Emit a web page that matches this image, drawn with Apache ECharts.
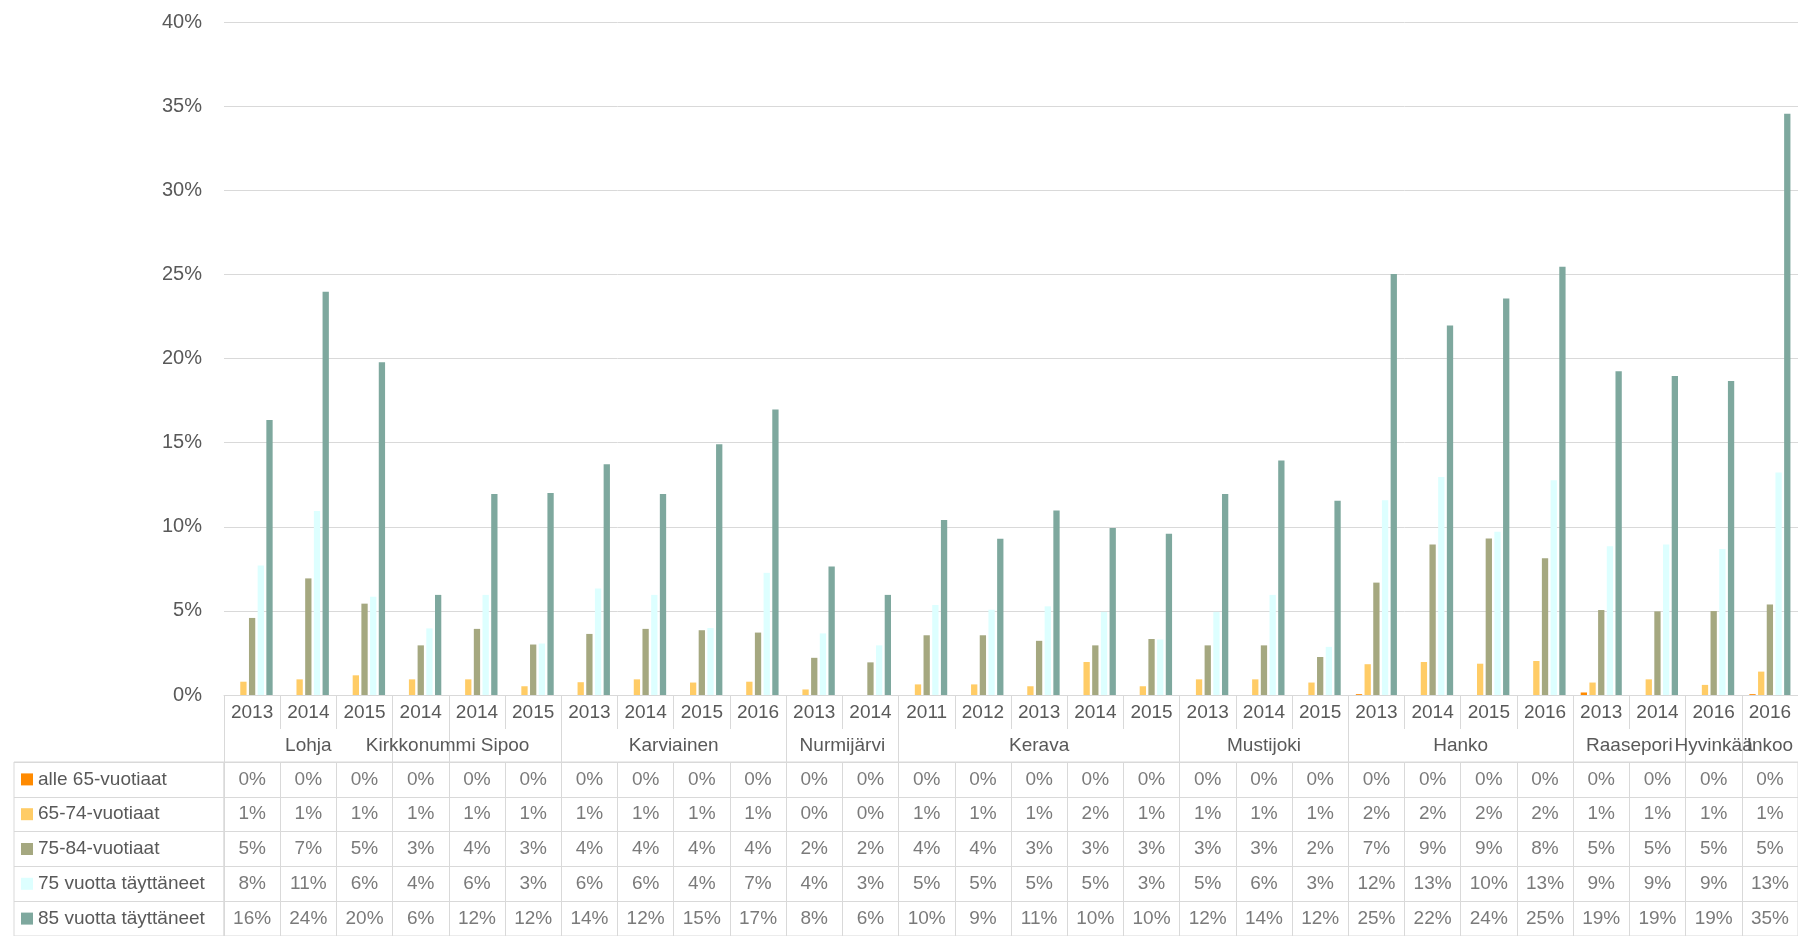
<!DOCTYPE html>
<html>
<head>
<meta charset="utf-8">
<script src="https://cdn.jsdelivr.net/npm/echarts@6/dist/echarts.min.js"></script>
<style>
  html, body { margin: 0; padding: 0; background: #fff; }
  #chart { width: 1798px; height: 936px; }
</style>
</head>
<body>
<div id="chart"></div>
<script>
// vuodet (kategoriat) ja kunnat
const years = ['2013','2014','2015','2014','2014','2015','2013','2014','2015','2016','2013','2014',
  '2011','2012','2013','2014','2015','2013','2014','2015','2013','2014','2015','2016','2013','2014','2016','2016'];
const municipalities = ['Lohja','Kirkkonummi','Sipoo','Karviainen','Nurmijärvi','Kerava','Mustijoki','Hanko','Raasepori','Hyvinkää','Inkoo'];
const groupSizes = [3, 1, 2, 4, 2, 5, 3, 4, 2, 1, 1];

const seriesNames = ['alle 65-vuotiaat', '65-74-vuotiaat', '75-84-vuotiaat', '75 vuotta täyttäneet', '85 vuotta täyttäneet'];
const colors = ['#FF8A00', '#FFCC66', '#A5A880', '#DDFFFF', '#7EA89E'];

// arvot prosentteina
const under65 = [0,0,0,0,0,0,0,0,0,0,0,0,0,0,0,0,0,0,0,0,0.05,0,0,0,0.15,0,0,0.05];
const age6574 = [0.79,0.93,1.17,0.93,0.93,0.52,0.76,0.93,0.74,0.79,0.33,0,0.63,0.63,0.52,1.96,0.52,0.93,0.93,0.74,1.83,1.96,1.86,2.02,0.74,0.93,0.6,1.39];
const age7584 = [4.58,6.93,5.43,2.95,3.93,3.0,3.63,3.93,3.85,3.71,2.21,1.94,3.55,3.55,3.22,2.95,3.33,2.95,2.95,2.26,6.68,8.95,9.3,8.13,5.05,4.97,4.99,5.38];
const age75plus = [7.69,10.94,5.84,3.96,5.95,3.06,6.33,5.95,3.98,7.26,3.66,2.95,5.35,5.07,5.27,4.94,3.3,4.94,5.95,2.86,11.57,12.96,9.71,12.77,8.84,8.95,8.68,13.23];
const age85plus = [16.34,23.96,19.78,5.95,11.95,12.0,13.72,11.95,14.9,16.97,7.64,5.95,10.4,9.28,10.97,9.93,9.58,11.95,13.94,11.54,25.02,21.96,23.57,25.46,19.24,18.96,18.66,34.54];

const allSeries = [under65, age6574, age7584, age75plus, age85plus];

const font = "'Liberation Sans', Arial, sans-serif";
const fontSize = 19;
const textColor = '#595959';
const lineColor = '#d9d9d9';

// kuntaryhmien rajat ja keskikohdat
const bounds = [0];
groupSizes.forEach(s => bounds.push(bounds[bounds.length - 1] + s));
const centers = groupSizes.map((s, i) => bounds[i] + s / 2);
// joka toinen nimi omalle akselilleen, ettei päällekkäisiä piiloteta
const centersA = centers.filter((c, i) => i % 2 === 0);
const centersB = centers.filter((c, i) => i % 2 === 1);

const chart = echarts.init(document.getElementById('chart'));

const barSeries = allSeries.map((vals, i) => ({
  name: seriesNames[i],
  type: 'bar',
  xAxisIndex: 0,
  yAxisIndex: 0,
  data: vals,
  barWidth: 6.3,
  barGap: '38%',
  itemStyle: { color: colors[i] },
  emphasis: { disabled: true }
}));

// taulukon solut
const cells = [];
allSeries.forEach((vals, r) => vals.forEach((v, c) => cells.push([c, r, v])));

const rich = { t: { fontFamily: font, fontSize: fontSize, color: textColor, padding: [0, 0, 0, 5] } };
colors.forEach((c, i) => { rich['m' + i] = { width: 12, height: 12, backgroundColor: c }; });

function municipalityAxis(vals, withTicks) {
  return {
    type: 'value', gridIndex: 0, min: 0, max: 28, position: 'bottom', offset: 34,
    axisLine: { show: false },
    splitLine: { show: false },
    axisTick: { show: withTicks, customValues: bounds, length: 33, lineStyle: { color: lineColor } },
    axisLabel: {
      customValues: vals, margin: 7, fontSize: fontSize, color: textColor, fontFamily: font,
      showMinLabel: true, showMaxLabel: true, hideOverlap: false,
      formatter: v => municipalities[centers.indexOf(v)] || ''
    }
  };
}

const option = {
  animation: false,
  textStyle: { fontFamily: font },
  grid: [
    { left: 224, top: 22, width: 1575, height: 673 },
    { left: 224, top: 762, width: 1575, height: 177, show: true, borderColor: lineColor, borderWidth: 1 },
    { left: 14, top: 762, width: 210, height: 177, show: true, borderColor: lineColor, borderWidth: 1 }
  ],
  xAxis: [
    {
      type: 'category', gridIndex: 0, data: years,
      axisLine: { show: true, lineStyle: { color: lineColor } },
      axisTick: { show: true, interval: 0, length: 34, lineStyle: { color: lineColor } },
      axisLabel: { interval: 0, margin: 8, fontSize: fontSize, color: textColor, fontFamily: font }
    },
    municipalityAxis(centersA, true),
    municipalityAxis(centersB, false),
    {
      type: 'category', gridIndex: 1, data: years,
      axisLine: { show: false }, axisTick: { show: false }, axisLabel: { show: false },
      splitLine: { show: true, interval: 0, lineStyle: { color: lineColor } }
    },
    {
      type: 'value', gridIndex: 2, min: 0, max: 1, show: false
    }
  ],
  yAxis: [
    {
      type: 'value', gridIndex: 0, min: 0, max: 40, interval: 5,
      axisLine: { show: false }, axisTick: { show: false },
      axisLabel: { margin: 22, fontSize: 20, color: textColor, fontFamily: font, formatter: '{value}%' },
      splitLine: { lineStyle: { color: lineColor } }
    },
    {
      type: 'category', gridIndex: 1, data: seriesNames, inverse: true,
      axisLine: { show: false }, axisTick: { show: false }, axisLabel: { show: false },
      splitLine: { show: true, interval: 0, lineStyle: { color: lineColor } }
    },
    {
      type: 'category', gridIndex: 2, data: seriesNames, inverse: true,
      axisLine: { show: false }, axisTick: { show: false },
      axisLabel: {
        inside: true, margin: 7, interval: 0, align: 'left',
        formatter: (name, idx) => `{m${idx}|}{t|${name}}`,
        rich: rich
      },
      splitLine: { show: true, interval: 0, lineStyle: { color: lineColor } }
    }
  ],
  series: barSeries.concat([{
    type: 'scatter',
    xAxisIndex: 3,
    yAxisIndex: 1,
    data: cells,
    symbolSize: 1,
    itemStyle: { color: 'rgba(0,0,0,0)' },
    silent: true,
    label: {
      show: true, position: 'inside', fontSize: fontSize, color: textColor, fontFamily: font,
      formatter: p => Math.round(p.value[2]) + '%'
    }
  }])
};

chart.setOption(option);
</script>
</body>
</html>
